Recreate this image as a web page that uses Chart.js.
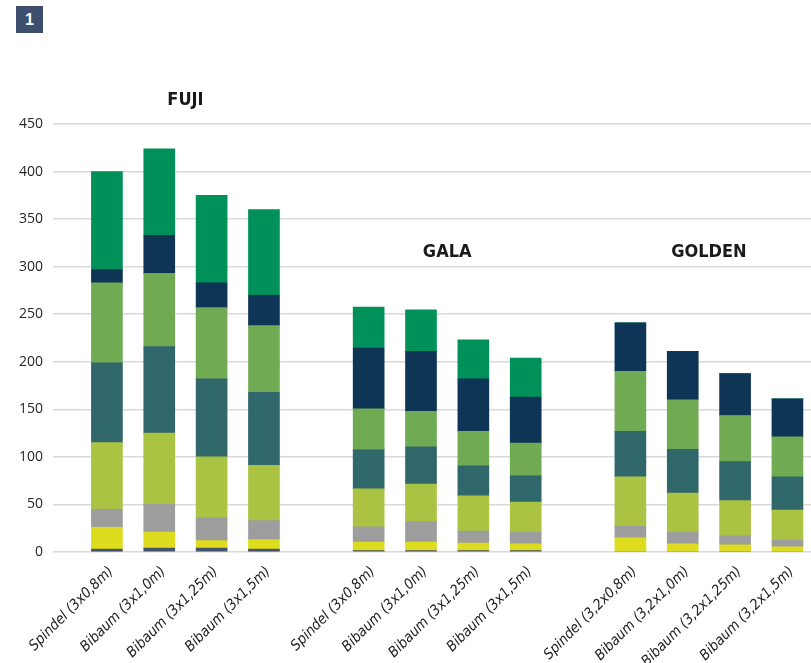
<!DOCTYPE html>
<html>
<head>
<meta charset="utf-8">
<script src="https://cdn.jsdelivr.net/npm/chart.js@4/dist/chart.umd.min.js"></script>
<style>
  html, body { margin: 0; padding: 0; background: #fff; overflow: hidden; }
  #contenedor { position: relative; width: 811px; height: 663px; }
  #numero {
    position: absolute; left: 16px; top: 6px; width: 27px; height: 27px;
    background: #3d4f6d; color: #fff; font: bold 16px "Liberation Sans", Arial, sans-serif;
    display: flex; align-items: center; justify-content: center;
  }
</style>
</head>
<body>
<div id="contenedor">
  <canvas id="myChart" width="811" height="663"></canvas>
  <div id="numero">1</div>
</div>
<script>
// categorias (4 por variedad)
const categorias = [
  "Spindel (3x0,8m)", "Bibaum (3x1,0m)", "Bibaum (3x1,25m)", "Bibaum (3x1,5m)",
  "Spindel (3x0,8m)", "Bibaum (3x1,0m)", "Bibaum (3x1,25m)", "Bibaum (3x1,5m)",
  "Spindel (3,2x0,8m)", "Bibaum (3,2x1,0m)", "Bibaum (3,2x1,25m)", "Bibaum (3,2x1,5m)"
];
const variedades = ["FUJI", "GALA", "GOLDEN"];

// valores de cada tramo, de abajo hacia arriba
const tramo1 = [3, 4, 4, 3, 1.5, 1.5, 1.5, 1.5, 0, 0, 0, 0];
const tramo2 = [23, 17, 8, 10, 9, 9, 8, 7, 15, 8.5, 7.5, 5.5];
const tramo3 = [19, 29, 24, 20, 16, 21.5, 12.5, 12.5, 12, 12.5, 9.5, 7];
const tramo4 = [70, 75, 64, 58, 40, 39.5, 37, 31.5, 52, 41, 37, 31.5];
const tramo5 = [84, 91, 82, 77, 41, 39, 31.5, 27.5, 48, 46, 41, 35];
const tramo6 = [84, 77, 75, 70, 43, 37.5, 36.5, 34.5, 63, 52, 48.5, 42];
const tramo7 = [14, 40, 26, 32, 64, 63, 55, 48.5, 51, 51, 44, 40];
const tramo8 = [103, 91, 92, 90, 43, 43.5, 41, 41, 0, 0, 0, 0];

const yTicks = [0, 50, 100, 150, 200, 250, 300, 350, 400, 450];

const colores = ["#44546a", "#dedc1f", "#9d9d9d", "#abc343", "#30676b", "#70aa53", "#0f3556", "#00915b"];
const tramos = [tramo1, tramo2, tramo3, tramo4, tramo5, tramo6, tramo7, tramo8];

// posicion en el eje x: un hueco entre variedades
const posiciones = categorias.map((c, i) => i + Math.floor(i / 4));

const datasets = tramos.map((valores, k) => ({
  data: valores.map((v, i) => ({ x: posiciones[i], y: v })),
  backgroundColor: colores[k],
  borderWidth: 0,
  barThickness: 31,
}));

// nombres de variedad sobre cada grupo
const nombresPlugin = {
  id: "nombres",
  afterDatasetsDraw(chart) {
    const ctx = chart.ctx;
    const x = chart.scales.x;
    const y = chart.scales.y;
    const alturas = [475, 315, 315];
    ctx.save();
    ctx.font = 'bold 18px "Liberation Sans Narrow", "DejaVu Sans Condensed", sans-serif';
    ctx.fillStyle = "#1a1a1a";
    ctx.textAlign = "center";
    ctx.textBaseline = "middle";
    variedades.forEach((nombre, g) => {
      const cx = x.getPixelForValue(posiciones[g * 4] + 1.5);
      ctx.fillText(nombre, cx, y.getPixelForValue(alturas[g]));
    });
    ctx.restore();
  },
};

const config = {
  type: "bar",
  data: { datasets: datasets },
  options: {
    responsive: false,
    animation: false,
    layout: { padding: { top: 124, right: 0, bottom: 0, left: 0 } },
    plugins: { legend: { display: false }, tooltip: { enabled: false } },
    scales: {
      x: {
        type: "linear",
        stacked: true,
        offset: false,
        min: -1.03,
        max: 13.45,
        grid: { display: false },
        border: { display: false },
        // etiquetas un poco a la derecha del centro de la barra
        afterBuildTicks: (scale) => {
          scale.ticks = posiciones.map((p) => ({ value: p + 0.08 }));
        },
        afterFit: (scale) => { scale.height = 111; },
        ticks: {
          autoSkip: false,
          minRotation: 45,
          maxRotation: 45,
          padding: 3,
          color: "#222",
          font: { family: '"Liberation Sans Narrow", "DejaVu Sans Condensed", sans-serif', size: 14.5, style: "italic" },
          callback: (value, index) => categorias[index] || "",
        },
      },
      y: {
        stacked: true,
        min: 0,
        max: 450,
        afterBuildTicks: (scale) => {
          scale.ticks = yTicks.map((v) => ({ value: v }));
        },
        afterFit: (scale) => { scale.width = 53; },
        grid: { color: "#d9d9d9", lineWidth: 1.5, drawTicks: false },
        border: { display: false },
        ticks: {
          padding: 10,
          color: "#262626",
          font: { family: '"Open Sans", sans-serif', size: 14 },
        },
      },
    },
  },
  plugins: [nombresPlugin],
};

const myChart = new Chart(document.getElementById("myChart"), config);
</script>
</body>
</html>
